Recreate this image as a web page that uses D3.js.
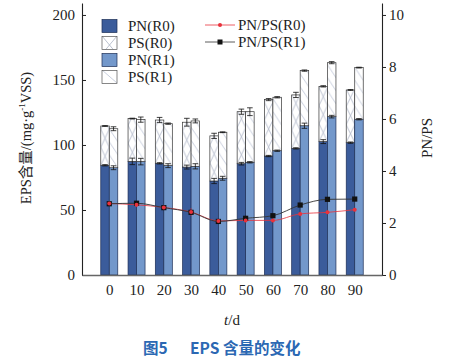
<!DOCTYPE html>
<html><head><meta charset="utf-8">
<script src="https://cdn.jsdelivr.net/npm/d3@7"></script>
<style>
html,body{margin:0;padding:0;background:#fff;}
svg{display:block;}
</style></head>
<body>
<script>
const days = [0,10,20,30,40,50,60,70,80,90];
const pnR0 = [84.4, 87.4, 85.9, 83.0, 72.3, 85.6, 91.5, 97.4, 102.6, 101.8];
const psR0 = [30.2, 32.9, 33.3, 34.5, 34.7, 40.0, 43.4, 41.1, 42.5, 40.5];
const pnR1 = [82.5, 87.2, 84.1, 83.6, 74.4, 86.7, 95.6, 114.8, 121.8, 119.8];
const psR1 = [30.0, 32.3, 32.3, 34.9, 35.4, 38.9, 41.1, 42.4, 41.5, 39.7];
const errTotR0 = [0.3, 0.3, 2, 3, 2, 2, 0.8, 2, 0.5, 0.3];
const errTotR1 = [1.5, 2, 0.5, 1.5, 0.3, 3, 0.5, 0.5, 0.8, 0.3];
const errPnR0 = [0.5, 2.5, 0.5, 1.5, 2, 1, 0.5, 0.5, 1.5, 0.5];
const errPnR1 = [1.5, 2.5, 1.5, 2, 1.5, 0.5, 0.5, 2, 1, 0.5];
const ratioR0 = [2.75, 2.70, 2.60, 2.42, 2.08, 2.10, 2.10, 2.35, 2.41, 2.51];
const ratioR1 = [2.74, 2.76, 2.59, 2.41, 2.06, 2.18, 2.28, 2.69, 2.91, 2.92];
const errRatioR0 = [0.05, 0.08, 0.03, 0.15, 0.05, 0.05, 0.05, 0.05, 0.03, 0.03];
const errRatioR1 = [0.03, 0.03, 0.03, 0.03, 0.03, 0.1, 0.03, 0.03, 0.03, 0.03];
const leftTicks = [0, 50, 100, 150, 200];
const rightTicks = [0, 2, 4, 6, 8, 10];
const legendBars = ["PN(R0)", "PS(R0)", "PN(R1)", "PS(R1)"];
const legendLines = ["PN/PS(R0)", "PN/PS(R1)"];

const W = 455, H = 358;
const serif = '"Liberation Serif","Times New Roman","Noto Sans CJK SC",serif';
const cDark = "#3b5c9b", cLight = "#7398cb", cRed = "#e8323c", cBlk = "#111";
const hatch = "#a9b2c4";

const svg = d3.select("body").append("svg").attr("width", W).attr("height", H);
const defs = svg.append("defs");

const x = d3.scaleLinear().domain([-10, 100]).range([82, 382]);
const y = d3.scaleLinear().domain([0, 209.2]).range([275, 3]);
const y2 = d3.scaleLinear().domain([0, 10.46]).range([275, 3]);
const bw = 8.5;

// patterns per bar
function xPattern(id, px, py, w) {
  const p = defs.append("pattern").attr("id", id).attr("patternUnits", "userSpaceOnUse")
    .attr("x", px).attr("y", py).attr("width", w).attr("height", 18);
  p.append("rect").attr("width", w).attr("height", 18).attr("fill", "#fff");
  p.append("path").attr("d", `M0,0L${w},18M${w},0L0,18`).attr("stroke", hatch).attr("stroke-width", 0.8).attr("fill", "none");
}
function dPattern(id, px, py, w) {
  const p = defs.append("pattern").attr("id", id).attr("patternUnits", "userSpaceOnUse")
    .attr("x", px).attr("y", py).attr("width", w).attr("height", 13);
  p.append("rect").attr("width", w).attr("height", 13).attr("fill", "#fff");
  p.append("path").attr("d", `M0,0L${w},13`).attr("stroke", "#b9c2d4").attr("stroke-width", 0.8).attr("fill", "none");
}

const g = svg.append("g");
days.forEach((d, i) => {
  const xc = x(d);
  // R0
  const x0 = xc - bw;
  xPattern("px" + i, x0, y(pnR0[i]), bw);
  g.append("rect").attr("x", x0).attr("y", y(pnR0[i])).attr("width", bw).attr("height", y(0) - y(pnR0[i]))
    .attr("fill", cDark).attr("stroke", "#1c2d55").attr("stroke-width", 0.7);
  g.append("rect").attr("x", x0).attr("y", y(pnR0[i] + psR0[i])).attr("width", bw).attr("height", y(pnR0[i]) - y(pnR0[i] + psR0[i]))
    .attr("fill", `url(#px${i})`).attr("stroke", "#333").attr("stroke-width", 0.7);
  // R1
  const x1 = xc;
  dPattern("pd" + i, x1, y(pnR1[i]), bw);
  g.append("rect").attr("x", x1).attr("y", y(pnR1[i])).attr("width", bw).attr("height", y(0) - y(pnR1[i]))
    .attr("fill", cLight).attr("stroke", "#1c2d55").attr("stroke-width", 0.7);
  g.append("rect").attr("x", x1).attr("y", y(pnR1[i] + psR1[i])).attr("width", bw).attr("height", y(pnR1[i]) - y(pnR1[i] + psR1[i]))
    .attr("fill", `url(#pd${i})`).attr("stroke", "#333").attr("stroke-width", 0.7);
});

// error bars
function errBar(cx, v, e, sc) {
  const cap = 2.8;
  const ge = g.append("g").attr("stroke", "#111").attr("stroke-width", 0.8);
  ge.append("line").attr("x1", cx).attr("x2", cx).attr("y1", sc(v - e)).attr("y2", sc(v + e));
  ge.append("line").attr("x1", cx - cap).attr("x2", cx + cap).attr("y1", sc(v - e)).attr("y2", sc(v - e));
  ge.append("line").attr("x1", cx - cap).attr("x2", cx + cap).attr("y1", sc(v + e)).attr("y2", sc(v + e));
}
days.forEach((d, i) => {
  const xc = x(d);
  errBar(xc - bw / 2, pnR0[i], errPnR0[i], y);
  errBar(xc - bw / 2, pnR0[i] + psR0[i], errTotR0[i], y);
  errBar(xc + bw / 2, pnR1[i], errPnR1[i], y);
  errBar(xc + bw / 2, pnR1[i] + psR1[i], errTotR1[i], y);
});

// lines
const line0 = d3.line().x((d, i) => x(days[i])).y(d => y2(d)).curve(d3.curveMonotoneX);
g.append("path").datum(ratioR0).attr("d", line0).attr("fill", "none").attr("stroke", cRed).attr("stroke-width", 0.8);
g.append("path").datum(ratioR1).attr("d", line0).attr("fill", "none").attr("stroke", "#333").attr("stroke-width", 0.9);
days.forEach((d, i) => {
  const gg = g.append("g").attr("stroke-width", 0.7);
  gg.append("line").attr("x1", x(d)).attr("x2", x(d)).attr("y1", y2(ratioR0[i] - errRatioR0[i])).attr("y2", y2(ratioR0[i] + errRatioR0[i])).attr("stroke", cRed);
  gg.append("line").attr("x1", x(d)).attr("x2", x(d)).attr("y1", y2(ratioR1[i] - errRatioR1[i])).attr("y2", y2(ratioR1[i] + errRatioR1[i])).attr("stroke", "#222");
});
g.selectAll(".sq").data(ratioR1).enter().append("rect")
  .attr("x", (d, i) => x(days[i]) - 2.6).attr("y", d => y2(d) - 2.6).attr("width", 5.2).attr("height", 5.2).attr("fill", cBlk);
g.selectAll(".ci").data(ratioR0).enter().append("circle")
  .attr("cx", (d, i) => x(days[i])).attr("cy", d => y2(d)).attr("r", 2).attr("fill", cRed);

// axes
const axL = svg.append("g").attr("transform", `translate(${x(-10)},0)`)
  .call(d3.axisLeft(y).tickValues(leftTicks).tickSizeInner(-4).tickSizeOuter(0).tickPadding(7));
const axR = svg.append("g").attr("transform", `translate(${x(100)},0)`)
  .call(d3.axisRight(y2).tickValues(rightTicks).tickSizeInner(4).tickSizeOuter(0).tickPadding(3));
const axB = svg.append("g").attr("transform", `translate(0,${y(0)})`)
  .call(d3.axisBottom(x).tickValues(days).tickSize(0).tickSizeOuter(0).tickPadding(9));
[axL, axR, axB].forEach(a => {
  a.selectAll("text").attr("font-family", serif).attr("font-size", 15).attr("fill", "#222");
  a.select(".domain").attr("stroke", "#222").attr("stroke-width", 1.1);
  a.selectAll(".tick line").attr("stroke", "#222").attr("stroke-width", 1);
});
axB.select(".domain").attr("stroke", "#666").attr("stroke-width", 1.4);

// axis titles
const yt = svg.append("text").attr("transform", "translate(31,138) rotate(-90)")
  .attr("text-anchor", "middle").attr("font-family", serif).attr("font-size", 14.5).attr("fill", "#222");
yt.append("tspan").text("EPS含量/(mg·g");
yt.append("tspan").attr("font-size", 9).attr("dy", -6).text("-1");
yt.append("tspan").attr("dy", 6).text("VSS)");
svg.append("text").attr("transform", "translate(432,138) rotate(-90)").attr("text-anchor", "middle")
  .attr("font-family", serif).attr("font-size", 15).attr("fill", "#222").text("PN/PS");
const xt = svg.append("text").attr("x", 232).attr("y", 325).attr("text-anchor", "middle")
  .attr("font-family", serif).attr("font-size", 15).attr("fill", "#222");
xt.append("tspan").attr("font-style", "italic").text("t");
xt.append("tspan").text("/d");

// legend bars
const lg = svg.append("g");
xPattern("lpx", 102, 36, 15);
dPattern("lpd", 102, 70, 15);
const fills = [cDark, "url(#lpx)", cLight, "url(#lpd)"];
legendBars.forEach((t, i) => {
  const yy = 19.5 + i * 17;
  lg.append("rect").attr("x", 102).attr("y", yy).attr("width", 15).attr("height", 13)
    .attr("fill", fills[i]).attr("stroke", i % 2 ? "#555" : "#1c2d55").attr("stroke-width", 0.7);
  lg.append("text").attr("x", 128).attr("y", yy + 11.5).attr("font-family", serif).attr("font-size", 15)
    .attr("fill", "#222").text(t);
});
// legend lines
legendLines.forEach((t, i) => {
  const yy = 25 + i * 17;
  const col = i === 0 ? cRed : "#333";
  lg.append("line").attr("x1", 205).attr("x2", 235).attr("y1", yy).attr("y2", yy).attr("stroke", col).attr("stroke-width", 0.8);
  if (i === 0) lg.append("circle").attr("cx", 220).attr("cy", yy).attr("r", 2).attr("fill", cRed);
  else lg.append("rect").attr("x", 217.5).attr("y", yy - 2.5).attr("width", 5).attr("height", 5).attr("fill", cBlk);
  lg.append("text").attr("x", 238).attr("y", yy + 5).attr("font-family", serif).attr("font-size", 15)
    .attr("fill", "#222").text(t);
});

// caption
const cap = svg.append("text").attr("x", 143).attr("y", 354).attr("font-family", '"Noto Sans CJK SC",sans-serif')
  .attr("font-weight", "bold").attr("font-size", 15.5).attr("fill", "#2b68b3");
cap.append("tspan").text("图5");
cap.append("tspan").attr("x", 190).text("EPS 含量的变化");
</script>
</body></html>
